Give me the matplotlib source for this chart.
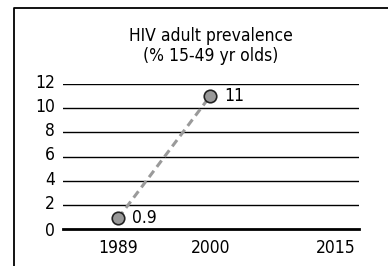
import matplotlib
matplotlib.use("Agg")
import matplotlib.pyplot as plt
import matplotlib.transforms as mtransforms
from matplotlib.lines import Line2D

plt.rcParams['font.family'] = ['DejaVu Sans']
plt.rcParams['font.stretch'] = 'condensed'

years = [1989, 2000]
prevalence = [0.9, 11]
value_labels = ['0.9', '11']
xtick_years = [1989, 2000, 2015]
yticks = [0, 2, 4, 6, 8, 10, 12]
title = "HIV adult prevalence\n(% 15-49 yr olds)"

W, H = 388, 266
fig = plt.figure(figsize=(W / 100, H / 100), dpi=100)
ax = fig.add_axes([63 / W, 37 / H, (359 - 63) / W, (229 - 84) / H])

# outer frame (left and top edges only)
fig.add_artist(Line2D([14 / W, 14 / W, 1], [0, (H - 8) / H, (H - 8) / H],
                      transform=fig.transFigure, color='black', lw=1.3))

for y in yticks[1:]:
    ax.axhline(y, color='black', lw=1.0, zorder=1)

ax.plot(years, prevalence, color='#9a9a9a', lw=2.2, dashes=(2.6, 1.6), zorder=2)
ax.plot(years, prevalence, 'o', color='#999999', mec='#222222', mew=1.2,
        ms=9, zorder=3)
for x, y, s in zip(years, prevalence, value_labels):
    ax.annotate(s, (x, y), xytext=(10, 0), textcoords='offset points',
                va='center', ha='left', fontsize=12.5)

ax.set_xlim(1982.4, 2017.8)
ax.set_ylim(0, 12)
ax.set_xticks(xtick_years)
ax.set_yticks(yticks)
ax.tick_params(length=0, labelsize=12.5)
ax.tick_params(axis='y', pad=6)
ax.tick_params(axis='x', pad=7)
for side in ['left', 'right', 'top']:
    ax.spines[side].set_visible(False)
ax.spines['bottom'].set_linewidth(2)

# y labels sit slightly above their gridlines
shift = mtransforms.ScaledTranslation(0, 3 / 100, fig.dpi_scale_trans)
for lbl in ax.get_yticklabels()[1:]:
    lbl.set_transform(lbl.get_transform() + shift)

fig.text(211 / W, (H - 46) / H, title, ha='center', va='center',
         fontsize=12.5, linespacing=1.1)

fig.savefig('out.png', dpi=100)
